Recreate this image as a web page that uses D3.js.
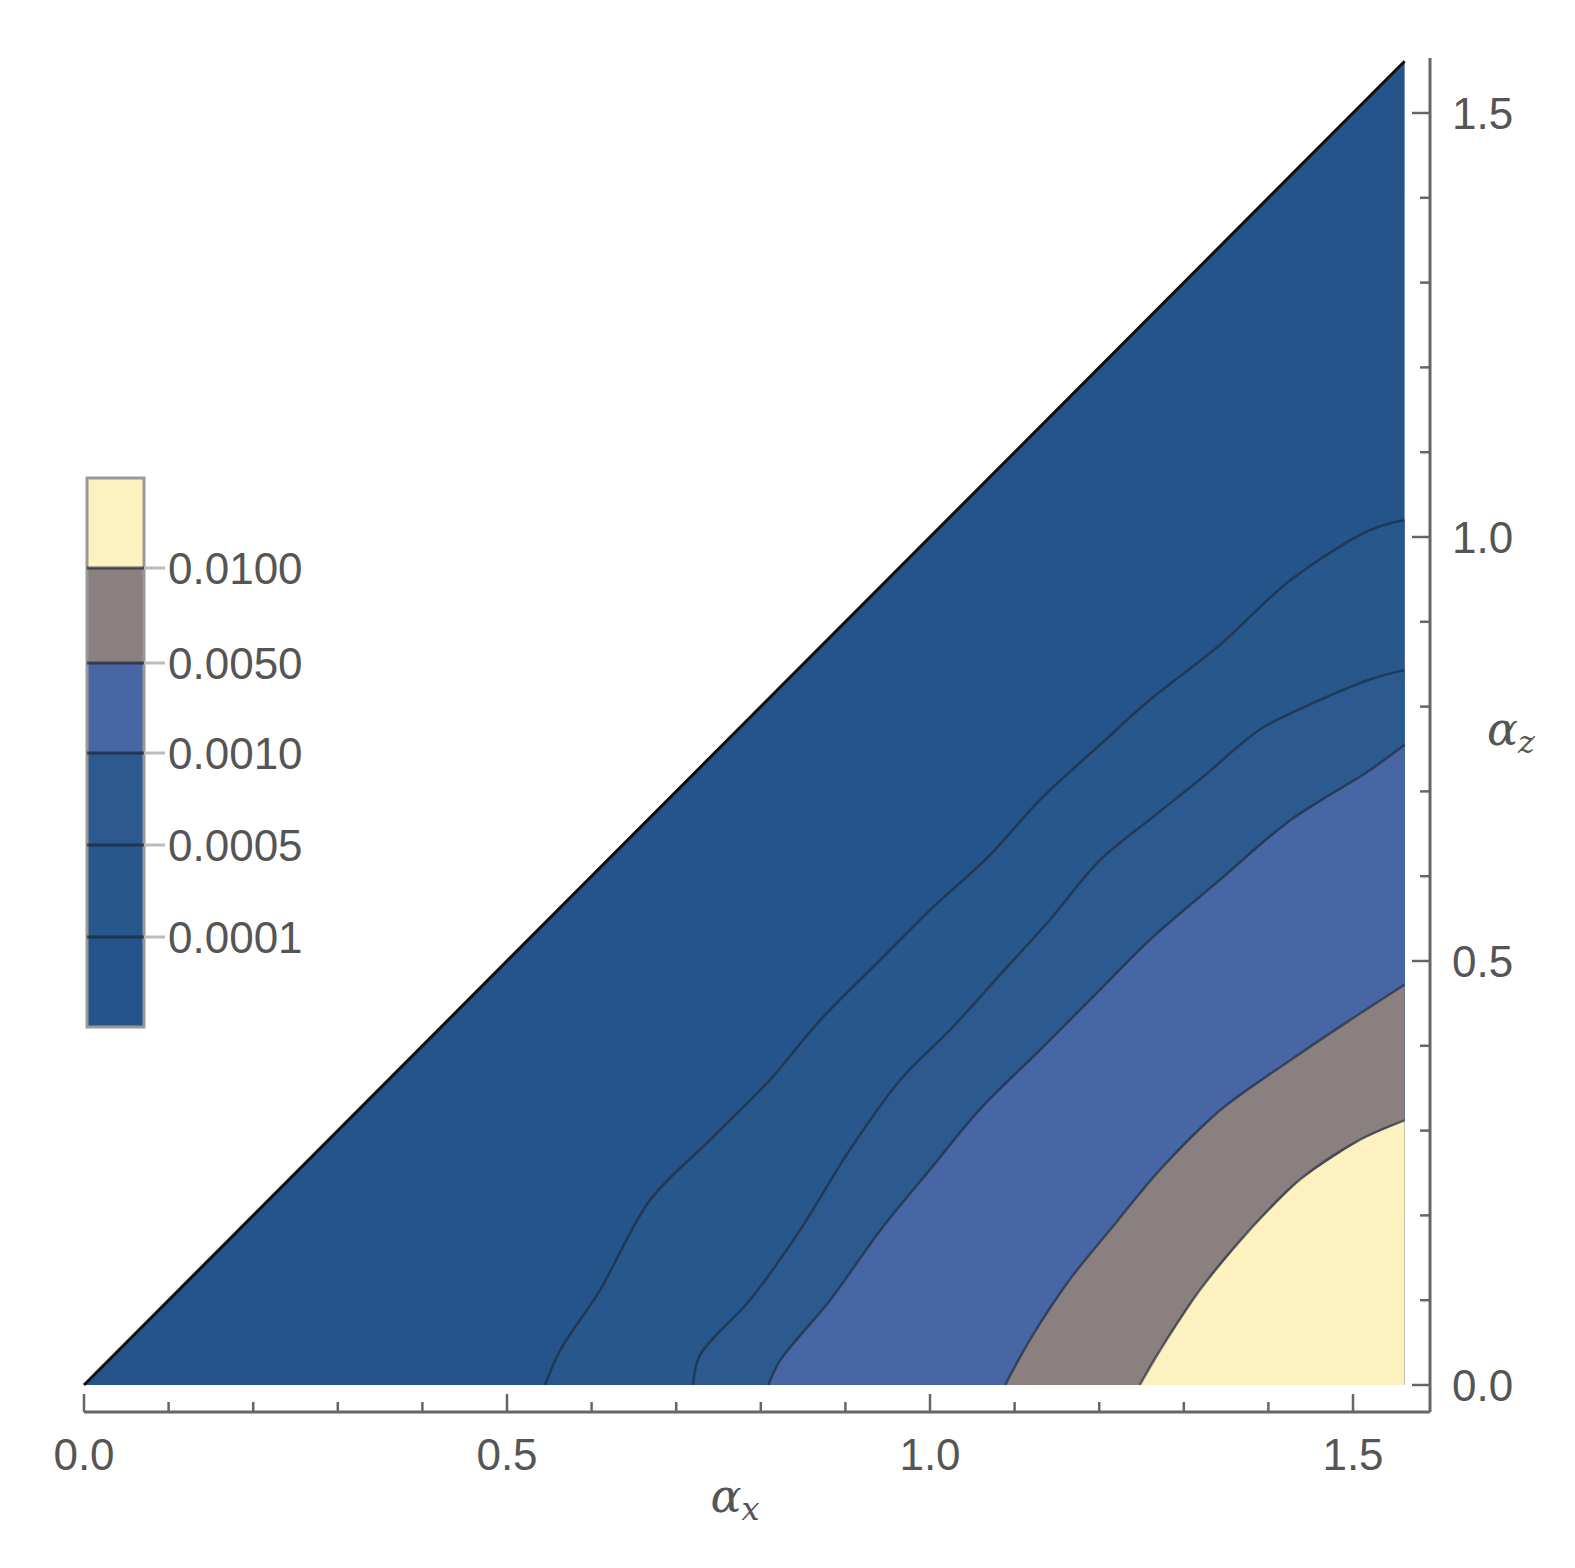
<!DOCTYPE html>
<html><head><meta charset="utf-8">
<script src="https://cdn.jsdelivr.net/npm/d3@7"></script>
<style>body{margin:0;background:#fff}</style>
</head><body>
<svg id="chart" width="1575" height="1568"></svg>
<script>
// contour levels and band colours
const levels = [0.0001, 0.0005, 0.001, 0.005, 0.01];
const levelLabels = ['0.0001', '0.0005', '0.0010', '0.0050', '0.0100'];
const bandColors = ['#25548a', '#28578c', '#2c5a8f', '#4866a3', '#8b8080', '#fdf1c0'];

// contour curves: [alpha_x, alpha_z]
const c0001 = [[0.545,0],[0.563,0.041],[0.610,0.112],[0.669,0.218],[0.740,0.289],[0.811,0.360],[0.870,0.430],[0.941,0.501],[1.000,0.560],[1.071,0.625],[1.130,0.690],[1.201,0.755],[1.260,0.808],[1.343,0.873],[1.426,0.949],[1.520,1.008],[1.561,1.020]];
const c0005 = [[0.720,0],[0.728,0.035],[0.787,0.100],[0.846,0.182],[0.905,0.277],[0.965,0.360],[1.024,0.419],[1.083,0.484],[1.142,0.549],[1.201,0.619],[1.260,0.667],[1.319,0.714],[1.390,0.773],[1.437,0.797],[1.520,0.832],[1.561,0.843]];
const c001 = [[0.809,0],[0.823,0.029],[0.882,0.100],[0.941,0.182],[1.000,0.254],[1.059,0.325],[1.130,0.395],[1.201,0.466],[1.260,0.525],[1.343,0.596],[1.426,0.666],[1.520,0.725],[1.561,0.755]];
const c005 = [[1.089,0],[1.118,0.053],[1.165,0.124],[1.213,0.183],[1.272,0.254],[1.343,0.324],[1.426,0.383],[1.496,0.430],[1.561,0.472]];
const c01 = [[1.248,0],[1.272,0.041],[1.319,0.112],[1.378,0.183],[1.437,0.242],[1.508,0.289],[1.561,0.312]];
const curves = [c0001, c0005, c001, c005, c01];

const xMax = 1.561, zMax = 1.561;
const xTicks = [0, 0.5, 1.0, 1.5];
const zTicks = [0, 0.5, 1.0, 1.5];

const svg = d3.select('#chart');
const x = d3.scaleLinear().domain([0, 1]).range([84, 930]);
const y = d3.scaleLinear().domain([0, 1]).range([1385, 537]);
const line = d3.line().x(d => x(d[0])).y(d => y(d[1])).curve(d3.curveCatmullRom);

// base triangle
svg.append('path')
  .attr('d', d3.line().x(d => x(d[0])).y(d => y(d[1]))([[0,0],[xMax,zMax],[xMax,0]]) + 'Z')
  .attr('fill', bandColors[0]);

// bands above each level: curve + right edge + bottom
curves.forEach((c, i) => {
  const pts = c.concat([[xMax, 0]]);
  svg.append('path')
    .attr('d', d3.line().x(d => x(d[0])).y(d => y(d[1])).curve(d3.curveLinear)(pts) + 'Z')
    .attr('fill', bandColors[i + 1]);
});
curves.forEach(c => {
  svg.append('path').attr('d', line(c))
    .attr('fill', 'none').attr('stroke', '#1a2638').attr('stroke-opacity', 0.6).attr('stroke-width', 2.5);
});
// diagonal edge
svg.append('line').attr('x1', x(0)).attr('y1', y(0)).attr('x2', x(xMax)).attr('y2', y(zMax))
  .attr('stroke', '#111').attr('stroke-width', 3);

// frame axes
const ax = '#666';
svg.append('line').attr('x1', 84).attr('x2', 1430).attr('y1', 1412).attr('y2', 1412).attr('stroke', ax).attr('stroke-width', 3);
svg.append('line').attr('x1', 1430).attr('x2', 1430).attr('y1', 58).attr('y2', 1412).attr('stroke', ax).attr('stroke-width', 3);
d3.range(0, 16).map(i => i / 10).forEach(v => {
  const major = Math.abs(v * 2 - Math.round(v * 2)) < 1e-9;
  const len = major ? 18 : 10;
  svg.append('line').attr('x1', x(v)).attr('x2', x(v)).attr('y1', 1412).attr('y2', 1412 - len).attr('stroke', ax).attr('stroke-width', 2.5);
  svg.append('line').attr('x1', 1430).attr('x2', 1430 - len).attr('y1', y(v)).attr('y2', y(v)).attr('stroke', ax).attr('stroke-width', 2.5);
});
const fmt = d3.format('.1f');
const tf = 'font-family:"Liberation Sans",Arial,sans-serif;font-size:44px;fill:#555';
xTicks.forEach(v => svg.append('text').attr('x', x(v)).attr('y', 1470).attr('text-anchor', 'middle').attr('style', tf).text(fmt(v)));
zTicks.forEach(v => svg.append('text').attr('x', 1452).attr('y', y(v) + 16).attr('style', tf).text(fmt(v)));
svg.append('text').attr('x', 735).attr('y', 1512).attr('text-anchor', 'middle')
  .attr('style', 'font-family:"DejaVu Serif",serif;font-style:italic;font-size:46px;fill:#555')
  .html('α<tspan font-size="32" dy="8">x</tspan>');
svg.append('text').attr('x', 1487).attr('y', 745)
  .attr('style', 'font-family:"DejaVu Serif",serif;font-style:italic;font-size:46px;fill:#555')
  .html('α<tspan font-size="32" dy="8">z</tspan>');

// legend
const ly = d3.scaleLinear().domain([0, 6]).range([1027, 478]);
const bandEdges = [0, 1, 2, 3, 4, 5, 6];
const legEdgeY = [1027, 937, 845, 753, 663, 568, 478];
bandColors.forEach((c, i) => {
  svg.append('rect').attr('x', 87).attr('width', 57)
    .attr('y', legEdgeY[i + 1]).attr('height', legEdgeY[i] - legEdgeY[i + 1]).attr('fill', c);
});
svg.append('rect').attr('x', 87).attr('y', 478).attr('width', 57).attr('height', 549)
  .attr('fill', 'none').attr('stroke', '#999').attr('stroke-width', 3);
levels.forEach((l, i) => {
  const yy = legEdgeY[i + 1];
  svg.append('line').attr('x1', 87).attr('x2', 144).attr('y1', yy).attr('y2', yy).attr('stroke', '#1a2638').attr('stroke-opacity', 0.7).attr('stroke-width', 3);
  svg.append('line').attr('x1', 144).attr('x2', 165).attr('y1', yy).attr('y2', yy).attr('stroke', '#bbb').attr('stroke-width', 3);
  svg.append('text').attr('x', 168).attr('y', yy + 16).attr('style', tf).text(levelLabels[i]);
});
</script>
</body></html>
